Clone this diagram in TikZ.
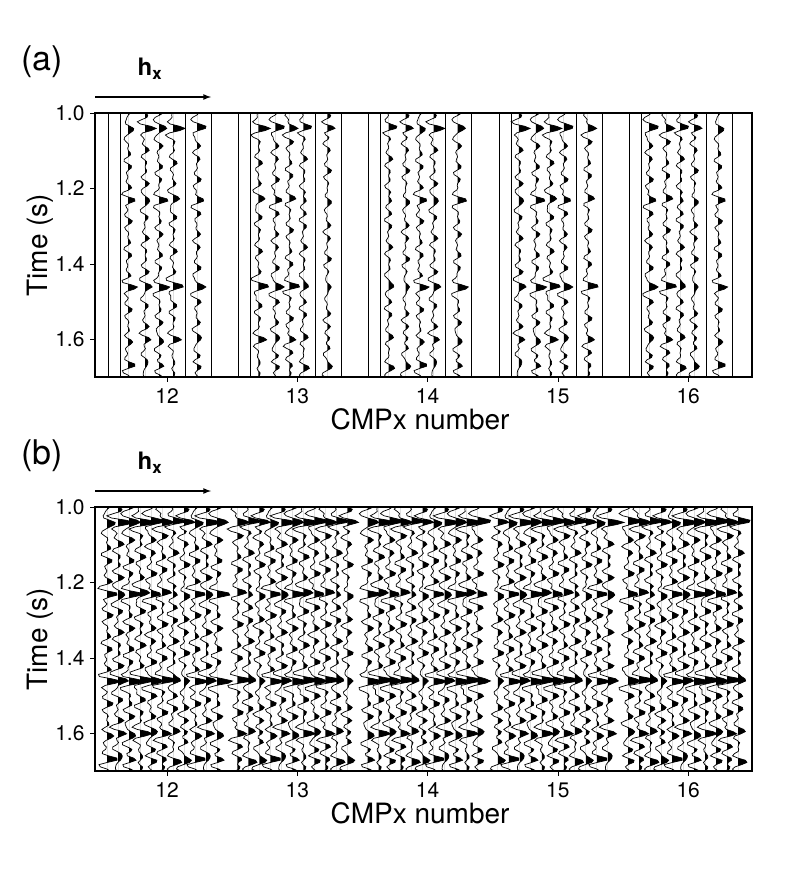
\documentclass[tikz,border=0pt]{standalone}
\usepackage{fontspec}
\setmainfont{TeX Gyre Heros}
\newcommand\wig[4]{% x, ytop, amp, signal index
\begin{scope}[shift={(#1,#2)},xscale=#3]
\expandafter\let\expandafter\cur\csname sigk#4\endcsname
\edef\doit{\noexpand\begin{scope}\noexpand\clip (0,0) rectangle (4,264);
\noexpand\fill (0,0) -- plot coordinates {\cur} -- (0,264) -- cycle;\noexpand\end{scope}
\noexpand\draw[line width=0.7pt] plot coordinates {\cur};}\doit
\end{scope}}
\begin{document}
\begin{tikzpicture}[x=1pt,y=-1pt,
declare function={ric(\u)=(1-2*min(\u*\u,30))*exp(-min(\u*\u,30));
sig(\t,\k)=0.5*sin(10000*\t+97*\k)*cos(2300*\t+61*\k)+0.9*ric((\t-0.04)/0.014)+0.6*ric((\t-0.23)/0.014)+0.9*ric((\t-0.46)/0.014)+0.45*ric((\t-0.6)/0.014)+0.5*ric((\t-0.67)/0.014);},
tick/.style={font=\fontsize{21}{21}\selectfont},
axlab/.style={font=\fontsize{28}{28}\selectfont},
panel/.style={font=\fontsize{34}{34}\selectfont}]
\useasboundingbox (0,0) rectangle (790,870);
% precompute signals
\foreach \k in {0,...,7}{
  \gdef\acc{}
  \foreach \i in {0,...,120}{
    \pgfmathsetmacro\tt{\i*0.7/120}
    \pgfmathsetmacro\ss{sig(\tt,\k)}
    \pgfmathsetmacro\yy{\tt*377.5}
    \xdef\acc{\acc(\ss,\yy)}}
  \expandafter\xdef\csname sigk\k\endcsname{\acc}}
\foreach \p/\yt/\lab in {0/113/a,1/507/b}{
  \node[panel] (lab\lab) at (42,\yt-51) {(\lab)};
  \node[font=\bfseries\fontsize{24}{24}\selectfont] (h\lab) at (150,\yt-44) {h\textsubscript{x}};
  \coordinate (as\lab) at (95,\yt-16); \coordinate (ae\lab) at (211,\yt-16);
  \draw[-latex,line width=1.6pt] (as\lab) -- (ae\lab);
  \node[axlab,rotate=90] (yl\lab) at (40,\yt+132) {Time (s)};
  \foreach \v/\s in {0/1.0,1/1.2,2/1.4,3/1.6}{
    \draw (95,\yt+\v*75.5) -- ++(-5,0);
    \node[tick,anchor=east] (yt\lab\v) at (88,\yt+\v*75.5) {\s};}
  \foreach \g in {0,...,4}{
    \pgfmathsetmacro\cx{167+130.3*\g}
    \draw (\cx,\yt+264) -- ++(0,5);
    \pgfmathtruncatemacro\n{12+\g}
    \node[tick] (xt\lab\g) at (\cx,\yt+283) {\n};}
  \node[axlab] (xl\lab) at (420,\yt+306) {CMPx number};
}
% panel a
\foreach \g in {0,...,4}{
  \pgfmathsetmacro\cx{167+130.3*\g}
  \foreach \o/\ty/\s in {-59/0/0,-47/0/0,-39/1/1,-22/1/2,-8/1/3,6/1/4,18/0/0,30/1/5,44/0/0}{
    \pgfmathsetmacro\xx{\cx+\o}
    \pgfmathtruncatemacro\si{mod(\s+\g*3,8)}
    \ifnum\ty=1 \wig{\xx}{113}{9}{\si} \else \draw (\xx,113) -- (\xx,377); \fi}}
% panel b
\foreach \g in {0,...,4}{
  \pgfmathsetmacro\cx{167+130.3*\g}
  \foreach \o [count=\c] in {-56,-45,-34,-23,-12,-1,10,21,32,43,54}{
    \pgfmathsetmacro\xx{\cx+\o-4}
    \pgfmathtruncatemacro\si{mod(\c+\g*5,8)}
    \wig{\xx}{507}{13}{\si}}}
\draw[line width=1.2pt] (95,113) rectangle (752,377);
\draw[line width=1.2pt] (95,507) rectangle (752,771);
\end{tikzpicture}
\end{document}
